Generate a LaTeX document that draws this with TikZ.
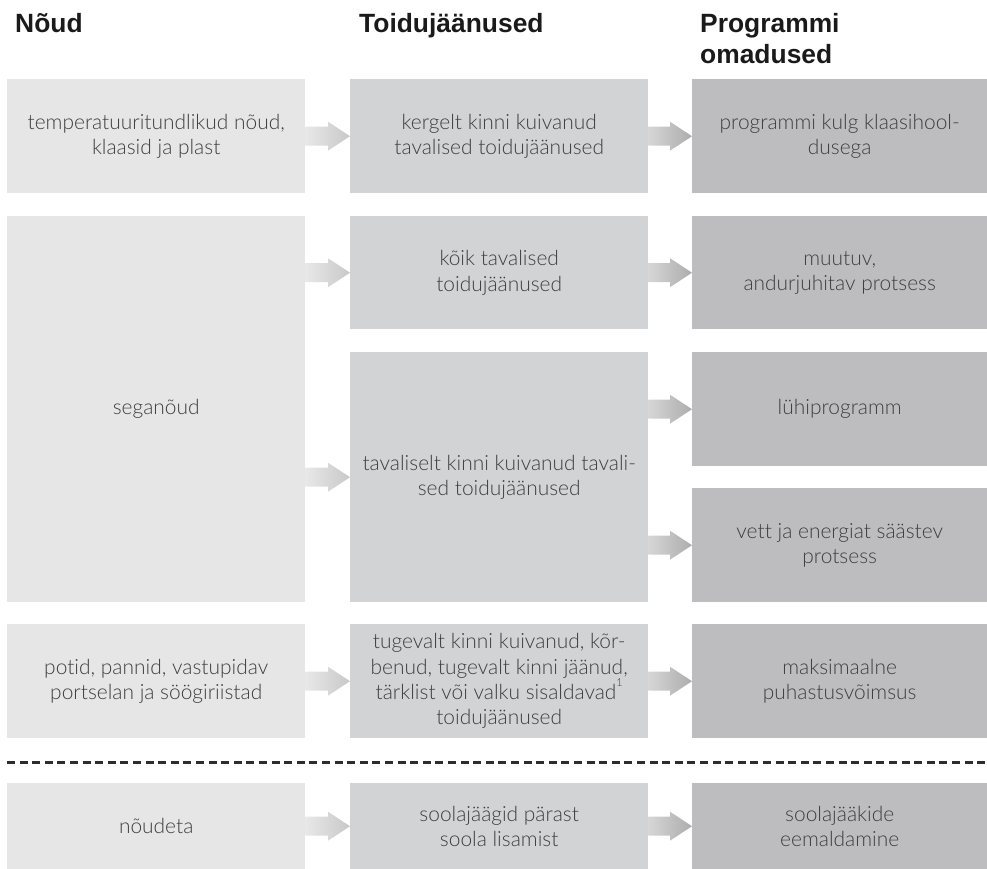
\documentclass[tikz,border=0pt]{standalone}
\usepackage{fontspec}
\setmainfont{Lato}[UprightFont=* Light, BoldFont=* Bold, Ligatures={NoCommon}]
\newfontfamily\hdrfont{Liberation Sans}[UprightFont=* Bold]
\usetikzlibrary{calc}
\definecolor{boxA}{RGB}{230,230,231}
\definecolor{boxB}{RGB}{210,211,213}
\definecolor{boxC}{RGB}{189,189,192}
\definecolor{txt}{RGB}{62,62,62}
\definecolor{hdr}{RGB}{26,26,26}
\definecolor{arA1}{RGB}{232,232,232}
\definecolor{arA2}{RGB}{200,200,200}
\definecolor{arB1}{RGB}{214,214,214}
\definecolor{arB2}{RGB}{172,172,172}
\definecolor{dash}{RGB}{45,45,45}
\newcommand\garr[4]{%
  \coordinate (gs) at (#1.east |- #2.west);
  \shade[left color=#3,right color=#4]
    ($(gs)+(0,-9.5)$) -- ($(#2.west)+(-22,-9.5)$) -- ($(#2.west)+(-22,-14.5)$)
    -- (#2.west) -- ($(#2.west)+(-22,14.5)$) -- ($(#2.west)+(-22,9.5)$)
    -- ($(gs)+(0,9.5)$) -- cycle;}
\newcommand\supone{\raisebox{0.62em}{\fontsize{11}{11}\selectfont 1}}
\tikzset{
  cell/.style={anchor=north west, inner sep=0pt, align=center, text=txt,
    font=\fontsize{21}{25.5}\selectfont},
  colA/.style={cell, fill=boxA, minimum width=298bp},
  colB/.style={cell, fill=boxB, minimum width=298bp},
  colC/.style={cell, fill=boxC, minimum width=295bp},
  head/.style={anchor=base west, inner sep=0pt, align=left, text=hdr,
    font=\hdrfont\fontsize{26.5}{31}\selectfont},
  sep/.style={draw=dash, line width=3bp, dash pattern=on 8bp off 4.6bp}
}
\begin{document}
\begin{tikzpicture}[x=1bp,y=-1bp]
\useasboundingbox (0,0) rectangle (987,869);
% headers
\node[head] (h1) at (15,32) {Nõud};
\node[head] (h2) at (359,32) {Toidujäänused};
\node[head] (h3) at (700,32) {Programmi};
\node[head] (h4) at (700,63) {omadused};
% row 1
\node[colA, minimum height=114bp] (a1) at (7,79) {temperatuuritundlikud nõud,\\klaasid ja plast};
\node[colB, minimum height=114bp] (b1) at (350,79) {kergelt kinni kuivanud\\tavalised toidujäänused};
\node[colC, minimum height=114bp] (c1) at (692,79) {programmi kulg klaasihool-\\dusega};
% row 2
\node[colA, minimum height=386bp] (a2) at (7,216) {seganõud};
\node[colB, minimum height=113bp] (b2) at (350,216) {kõik tavalised\\toidujäänused};
\node[colB, minimum height=250bp] (b3) at (350,352) {tavaliselt kinni kuivanud tavali-\\sed toidujäänused};
\node[colC, minimum height=113bp] (c2) at (692,216) {muutuv,\\andurjuhitav protsess};
\node[colC, minimum height=114bp] (c3) at (692,352) {lühiprogramm};
\node[colC, minimum height=114bp] (c4) at (692,488) {vett ja energiat säästev\\protsess};
% row 3
\node[colA, minimum height=114bp] (a4) at (7,624) {potid, pannid, vastupidav\\portselan ja söögiriistad};
\node[colB, minimum height=114bp] (b4) at (350,624) {tugevalt kinni kuivanud, kõr-\\benud, tugevalt kinni jäänud,\\tärklist või valku sisaldavad\supone\\toidujäänused};
\node[colC, minimum height=114bp] (c5) at (692,624) {maksimaalne\\puhastusvõimsus};
% separator
\coordinate (d1) at (7,762);
\coordinate (d2) at (987,762);
\draw[sep] (d1) -- (d2);
% row 4
\node[colA, minimum height=86bp] (a5) at (7,783) {nõudeta};
\node[colB, minimum height=86bp] (b5) at (350,783) {soolajäägid pärast\\soola lisamist};
\node[colC, minimum height=86bp] (c6) at (692,783) {soolajääkide\\eemaldamine};
% arrows
\garr{a1}{b1}{arA1}{arA2}
\garr{b1}{c1}{arB1}{arB2}
\garr{a2}{b2}{arA1}{arA2}
\garr{a2}{b3}{arA1}{arA2}
\garr{b2}{c2}{arB1}{arB2}
\garr{b3}{c3}{arB1}{arB2}
\garr{b3}{c4}{arB1}{arB2}
\garr{a4}{b4}{arA1}{arA2}
\garr{b4}{c5}{arB1}{arB2}
\garr{a5}{b5}{arA1}{arA2}
\garr{b5}{c6}{arB1}{arB2}
\end{tikzpicture}
\end{document}
